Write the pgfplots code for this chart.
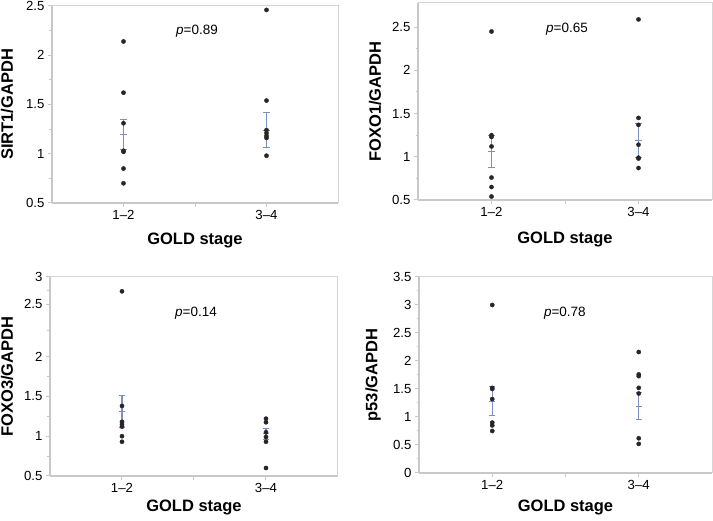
\documentclass[border=0pt]{standalone}
\usepackage{pgfplots}
\pgfplotsset{compat=1.18}
\usepackage{fontspec}
\setmainfont{Liberation Sans}
\definecolor{ebar}{RGB}{125,142,192}
\definecolor{axgray}{RGB}{200,200,200}
\pgfplotsset{
  gold/.style={
    scale only axis, anchor=south west,
    xmin=0.5, xmax=2.5,
    xtick={1,1.5,2}, xticklabels={1–2,{},3–4},
    axis x line*=bottom, axis y line*=left,
    axis line style={axgray, line width=2.8pt, -},
    tick align=outside,
    tick style={axgray, line width=1pt},
    major tick length=4pt, minor tick length=2.5pt,
    minor y tick num=1,
    ticklabel style={font=\fontsize{13.2}{15}\selectfont},
    /pgf/number format/assume math mode=true,
    xlabel={GOLD stage},
    label style={font=\fontsize{16.5}{19}\selectfont\bfseries},
    ylabel style={at={(axis description cs:0,0.5)}, anchor=center},
    xlabel style={at={(axis description cs:0.5,0)}, anchor=center},
    clip=false,
  },
  pts/.style={only marks, mark=*, mark size=2.1pt, black!85},
  eb/.style={ebar, only marks, mark=-, mark size=3.2pt, mark options={line width=1pt},
    error bars/.cd, y dir=both, y explicit,
    error bar style={ebar, line width=1.1pt},
    error mark options={ebar, mark size=3.2pt, line width=1pt, rotate=90}},
}
\newcommand{\frameTR}{\draw[axgray!75, line width=1pt] (rel axis cs:0,1) -- (rel axis cs:1,1) -- (rel axis cs:1,0);}
\begin{document}
\begin{tikzpicture}
\useasboundingbox (0,0) rectangle (713pt,521pt);
% Panel 1
\begin{axis}[gold, at={(52pt,318pt)}, width=286pt, height=197pt,
  ymin=0.5, ymax=2.5, ytick={0.5,1,1.5,2,2.5},
  ylabel={SIRT1/GAPDH}, ylabel style={yshift=45pt}, xlabel style={yshift=-37pt}]
\frameTR
\addplot[eb] coordinates {(1,1.195) +- (0,0.155) (2,1.24) +- (0,0.18)};
\addplot[pts] coordinates {(1,2.14) (1,1.62) (1,1.31) (1,1.03) (1,1.02) (1,0.85) (1,0.70)
  (2,2.46) (2,1.54) (2,1.24) (2,1.21) (2,1.18) (2,1.16) (2,0.98)};
\node[font=\fontsize{13.5}{15}\selectfont] at (rel axis cs:0.507,0.87) {\textit{p}=0.89};
\end{axis}
% Panel 2
\begin{axis}[gold, at={(418pt,321pt)}, width=294pt, height=197pt,
  ymin=0.5, ymax=2.78, ytick={0.5,1,1.5,2,2.5},
  ylabel={FOXO1/GAPDH}, ylabel style={yshift=43pt}, xlabel style={yshift=-39pt}]
\frameTR
\addplot[eb] coordinates {(1,1.065) +- (0,0.185) (2,1.19) +- (0,0.20)};
\addplot[pts] coordinates {(1,2.45) (1,1.25) (1,1.23) (1,1.12) (1,0.76) (1,0.65) (1,0.54)
  (2,2.59) (2,1.45) (2,1.37) (2,1.14) (2,0.99) (2,0.98) (2,0.87)};
\node[font=\fontsize{13.5}{15}\selectfont] at (rel axis cs:0.507,0.868) {\textit{p}=0.65};
\end{axis}
% Panel 3
\begin{axis}[gold, at={(50pt,45pt)}, width=288pt, height=199pt,
  ymin=0.5, ymax=3.0, ytick={0.5,1,1.5,2,2.66,3}, yticklabels={0.5,1,1.5,2,2.5,3},
  minor ytick={0.75,1.25,1.75,2.33,2.83},
  ylabel={FOXO3/GAPDH}, ylabel style={yshift=43pt}, xlabel style={yshift=-31pt}]
\frameTR
\addplot[eb] coordinates {(1,1.31) +- (0,0.20) (2,1.03) +- (0,0.07)};
\addplot[pts] coordinates {(1,2.82) (1,1.38) (1,1.18) (1,1.15) (1,1.12) (1,1.00) (1,0.93)
  (2,1.22) (2,1.175) (2,1.05) (2,0.99) (2,0.93) (2,0.60)};
\node[font=\fontsize{13.5}{15}\selectfont] at (rel axis cs:0.507,0.82) {\textit{p}=0.14};
\end{axis}
% Panel 4
\begin{axis}[gold, at={(419pt,48pt)}, width=293pt, height=196pt,
  ymin=0, ymax=3.5, ytick={0,0.5,1,1.5,2,2.5,3,3.5},
  ylabel={p53/GAPDH}, ylabel style={yshift=46pt}, xlabel style={yshift=-34pt}]
\frameTR
\addplot[eb] coordinates {(1,1.28) +- (0,0.26) (2,1.19) +- (0,0.24)};
\addplot[pts] coordinates {(1,3.00) (1,1.52) (1,1.50) (1,1.32) (1,0.90) (1,0.85) (1,0.75)
  (2,2.16) (2,1.76) (2,1.73) (2,1.52) (2,1.42) (2,0.62) (2,0.52)};
\node[font=\fontsize{13.5}{15}\selectfont] at (rel axis cs:0.498,0.816) {\textit{p}=0.78};
\end{axis}
\end{tikzpicture}
\end{document}
